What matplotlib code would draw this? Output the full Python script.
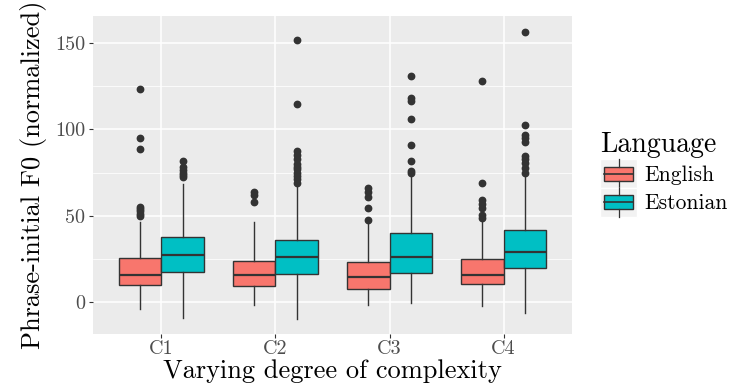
import numpy as np
import matplotlib
matplotlib.use('Agg')
import matplotlib.pyplot as plt
from matplotlib.patches import Rectangle, Patch
from matplotlib.lines import Line2D
from matplotlib.legend_handler import HandlerBase

plt.rcParams['font.family'] = 'cmr10'
plt.rcParams['axes.formatter.use_mathtext'] = True

# data
categories = ['C1', 'C2', 'C3', 'C4']
languages = ['English', 'Estonian']
colors = ['#F8766D', '#00BFC4']

eng_q1 = [9.8, 9.2, 7.9, 10.3]
eng_med = [15.5, 15.5, 14.8, 15.9]
eng_q3 = [25.3, 24.1, 23.2, 24.7]
eng_lo = [-4.0, -1.7, -1.7, -2.1]
eng_hi = [46.2, 46.2, 45.4, 46.2]
eng_out = [
    [123.3, 95.0, 88.5, 55.3, 54.0, 52.5, 51.0, 49.6],
    [63.6, 62.1, 57.9],
    [65.9, 64.0, 61.1, 54.4, 47.3],
    [128.2, 69.1, 59.2, 56.9, 54.2, 50.2, 48.7],
]

est_q1 = [17.6, 16.1, 17.0, 19.9]
est_med = [27.2, 25.9, 26.2, 28.9]
est_q3 = [37.9, 36.2, 40.0, 41.6]
est_lo = [-9.4, -9.8, -0.6, -6.3]
est_hi = [68.4, 67.8, 72.2, 74.5]
est_out = [
    [81.8, 78.4, 76.5, 75.0, 73.8, 72.6],
    [151.9, 114.6, 87.6, 85.4, 83.1, 80.0, 78.4, 77.0, 75.0, 73.0, 71.0, 69.0],
    [131.0, 118.2, 116.5, 105.7, 91.2, 81.6, 75.9, 74.9],
    [156.5, 102.5, 96.9, 95.0, 92.8, 84.5, 82.6, 80.3, 77.4, 74.5],
]

groups = [
    (eng_q1, eng_med, eng_q3, eng_lo, eng_hi, eng_out),
    (est_q1, est_med, est_q3, est_lo, est_hi, est_out),
]

fig = plt.figure(figsize=(7.45, 3.83), dpi=100)
ax = fig.add_axes([0.1248, 0.128, 0.6430, 0.830])
ax.set_facecolor('#EBEBEB')
for s in ax.spines.values():
    s.set_visible(False)

x = np.arange(1, len(categories) + 1)
offsets = [-0.1875, 0.1875]
for g, (q1, med, q3, lo, hi, out) in enumerate(groups):
    stats = []
    for i in range(len(categories)):
        stats.append(dict(q1=q1[i], med=med[i], q3=q3[i], whislo=lo[i],
                          whishi=hi[i], fliers=out[i]))
    ax.bxp(stats, positions=x + offsets[g], widths=0.375, patch_artist=True,
           showcaps=False, manage_ticks=False,
           boxprops=dict(facecolor=colors[g], edgecolor='#333333', linewidth=1.0),
           medianprops=dict(color='#333333', linewidth=1.6),
           whiskerprops=dict(color='#333333', linewidth=1.0),
           flierprops=dict(marker='o', markerfacecolor='#333333',
                           markeredgecolor='#333333', markersize=4.6),
           zorder=3)

ax.set_xlim(0.4, 4.6)
ax.set_ylim(-18.4, 165.5)
ax.set_xticks(x)
ax.set_xticklabels(categories)
ax.set_yticks([0, 50, 100, 150])
ax.set_yticklabels(['0', '50', '100', '150'])
ax.set_yticks([25, 75, 125], minor=True)
ax.grid(which='major', color='white', linewidth=1.1, zorder=0)
ax.grid(which='minor', axis='y', color='white', linewidth=0.55, zorder=0)
ax.set_axisbelow(True)
ax.tick_params(which='major', length=2.7, width=0.8, color='#333333',
               labelcolor='#4D4D4D', labelsize=14.5, pad=3)
ax.tick_params(axis='x', pad=2)
ax.tick_params(which='minor', length=0)

ax.set_xlabel('Varying degree of complexity', fontsize=19, labelpad=0.3)
ax.set_ylabel('Phrase-initial F0 (normalized)', fontsize=19, labelpad=6)


class BoxKey(HandlerBase):
    def create_artists(self, legend, orig, xd, yd, w, h, fs, trans):
        x0, y0 = -xd, -yd
        bg = Rectangle((x0, y0 - 1), w, h + 2, facecolor='#F2F2F2',
                       edgecolor='white', linewidth=1, transform=trans)
        box = Rectangle((x0 + 0.12 * w, y0 + 0.23 * h), 0.76 * w, 0.54 * h,
                        facecolor=orig.get_facecolor(), edgecolor='#333333',
                        linewidth=1.0, transform=trans)
        mid = Line2D([x0 + 0.12 * w, x0 + 0.88 * w], [y0 + 0.5 * h] * 2,
                     color='#333333', linewidth=1.2, transform=trans)
        w1 = Line2D([x0 + 0.5 * w] * 2, [y0 - 1, y0 + 0.23 * h],
                    color='#333333', linewidth=0.9, transform=trans)
        w2 = Line2D([x0 + 0.5 * w] * 2, [y0 + 0.77 * h, y0 + h + 1],
                    color='#333333', linewidth=0.9, transform=trans)
        return [bg, box, mid, w1, w2]


handles = [Patch(facecolor=c) for c in colors]
leg = fig.legend(handles, languages, loc='upper left',
                 bbox_to_anchor=(0.805, 0.655), frameon=False,
                 handler_map={Patch: BoxKey()},
                 prop={'family': 'cmr10', 'size': 15.5},
                 title='Language',
                 title_fontproperties={'family': 'cmr10', 'size': 20},
                 alignment='left', handlelength=1.75, handleheight=1.5,
                 labelspacing=0.1, handletextpad=0.3, borderpad=0,
                 borderaxespad=0)

fig.savefig('out.png', dpi=100)
